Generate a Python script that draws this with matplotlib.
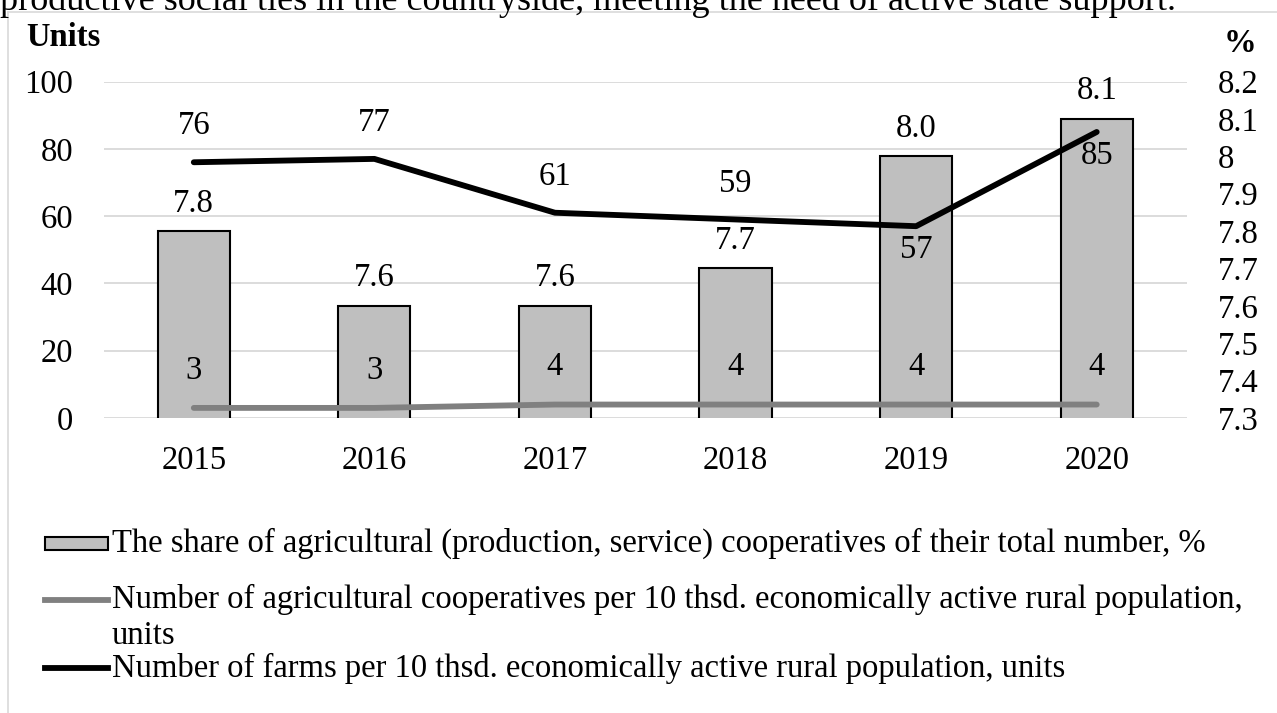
import matplotlib
matplotlib.use("Agg")
import matplotlib.pyplot as plt
from matplotlib.lines import Line2D
from matplotlib.patches import Rectangle
import numpy as np

plt.rcParams['font.family'] = ['Liberation Serif', 'DejaVu Serif']

# ---- data ----
years = ["2015", "2016", "2017", "2018", "2019", "2020"]
share_pct = [7.8, 7.6, 7.6, 7.7, 8.0, 8.1]
share_labels = ["7.8", "7.6", "7.6", "7.7", "8.0", "8.1"]
coops_per_10k = [3, 3, 4, 4, 4, 4]
farms_per_10k = [76, 77, 61, 59, 57, 85]
farm_label_side = ["above", "above", "above", "above", "below", "below"]

legend_bar = "The share of agricultural (production, service) cooperatives of their total number, %"
legend_coop_1 = "Number of agricultural cooperatives per 10 thsd. economically active rural population,"
legend_coop_2 = "units"
legend_farm = "Number of farms per 10 thsd. economically active rural population, units"
top_text = "productive social ties in the countryside, meeting the need of active state support."

left_ticks = [0, 20, 40, 60, 80, 100]
right_ticks = [7.3, 7.4, 7.5, 7.6, 7.7, 7.8, 7.9, 8.0, 8.1, 8.2]
right_tick_labels = ["7.3", "7.4", "7.5", "7.6", "7.7", "7.8", "7.9", "8", "8.1", "8.2"]

# ---- figure ----
W, H = 1277, 713
fig = plt.figure(figsize=(W / 100, H / 100), dpi=100)

def fx(px):
    return px / W

def fy(py):
    return 1 - py / H

FS = 23.5
GRID = "#d9d9d9"

# frame border (partially visible)
fig.add_artist(Line2D([fx(8), fx(8)], [fy(12), fy(720)], color=GRID, lw=1.2))
fig.add_artist(Line2D([fx(8), fx(1290)], [fy(12), fy(12)], color=GRID, lw=1.2))

# cut-off sentence at the top
fig.text(0.0, fy(10), top_text, fontsize=26, ha="left", va="baseline")

ax_l, ax_r = 103.5, 1187
ax_t, ax_b = 81.5, 418
pos = [fx(ax_l), fy(ax_b), fx(ax_r) - fx(ax_l), fy(ax_t) - fy(ax_b)]

x = np.arange(len(years))

# background axis: left scale + grid
ax = fig.add_axes(pos)
ax.set_xlim(-0.5, len(years) - 0.5)
ax.set_ylim(0, 100)
ax.set_yticks(left_ticks)
ax.set_yticklabels([str(t) for t in left_ticks], fontsize=FS)
ax.set_xticks(x)
ax.set_xticklabels(years, fontsize=FS)
ax.tick_params(axis="both", length=0)
ax.tick_params(axis="y", pad=22)
ax.tick_params(axis="x", pad=20)
ax.grid(axis="y", color=GRID, lw=1.3)
ax.grid(axis="x", visible=False)
for s in ax.spines.values():
    s.set_visible(False)
ax.set_zorder(0)

# bars on the right (%) axis
axb = ax.twinx()
axb.set_ylim(7.3, 8.2)
axb.set_yticks(right_ticks)
axb.set_yticklabels(right_tick_labels, fontsize=FS)
axb.tick_params(axis="y", length=0, pad=22)
for s in axb.spines.values():
    s.set_visible(False)
axb.bar(x, share_pct, width=0.4, bottom=0, color="#bfbfbf", edgecolor="black", linewidth=1.5)
axb.set_ylim(7.3, 8.2)
for xi, v, lab in zip(x, share_pct, share_labels):
    axb.annotate(lab, (xi, v), xytext=(0, 20), textcoords="offset points",
                 ha="center", va="center", fontsize=FS)
axb.set_zorder(1)
axb.patch.set_visible(False)

# lines on the left (units) scale
axl = ax.twinx()
axl.set_ylim(0, 100)
axl.set_yticks([])
for s in axl.spines.values():
    s.set_visible(False)
axl.plot(x, coops_per_10k, color="#808080", lw=4.2, solid_capstyle="round", solid_joinstyle="round")
axl.plot(x, farms_per_10k, color="black", lw=4.2, solid_capstyle="round", solid_joinstyle="round")
for xi, v in zip(x, coops_per_10k):
    axl.annotate(str(v), (xi, v), xytext=(0, 27), textcoords="offset points",
                 ha="center", va="center", fontsize=FS)
for xi, v, side in zip(x, farms_per_10k, farm_label_side):
    dy = 26 if side == "above" else -17
    axl.annotate(str(v), (xi, v), xytext=(0, dy), textcoords="offset points",
                 ha="center", va="center", fontsize=FS)
axl.set_zorder(2)
axl.patch.set_visible(False)
axl.set_xlim(-0.5, len(years) - 0.5)

# axis titles
fig.text(fx(26), fy(37), "Units", fontsize=FS, fontweight="bold", ha="left", va="center")
fig.text(fx(1240), fy(43), "%", fontsize=FS, fontweight="bold", ha="center", va="center")

# legend (drawn manually to match layout)
lx0, lx1, tx = 45, 108, 112
fig.add_artist(Rectangle((fx(lx0), fy(550)), fx(lx1) - fx(lx0), fy(537) - fy(550),
                         facecolor="#bfbfbf", edgecolor="black", lw=1.5))
fig.text(fx(tx), fy(543), legend_bar, fontsize=FS, ha="left", va="center")
fig.add_artist(Line2D([fx(lx0), fx(lx1)], [fy(600), fy(600)], color="#808080", lw=4.2))
fig.text(fx(tx), fy(599), legend_coop_1, fontsize=FS, ha="left", va="center")
fig.text(fx(tx), fy(636), legend_coop_2, fontsize=FS, ha="left", va="center")
fig.add_artist(Line2D([fx(lx0), fx(lx1)], [fy(668), fy(668)], color="black", lw=4.2))
fig.text(fx(tx), fy(668), legend_farm, fontsize=FS, ha="left", va="center")

fig.savefig("out.png", dpi=100)
